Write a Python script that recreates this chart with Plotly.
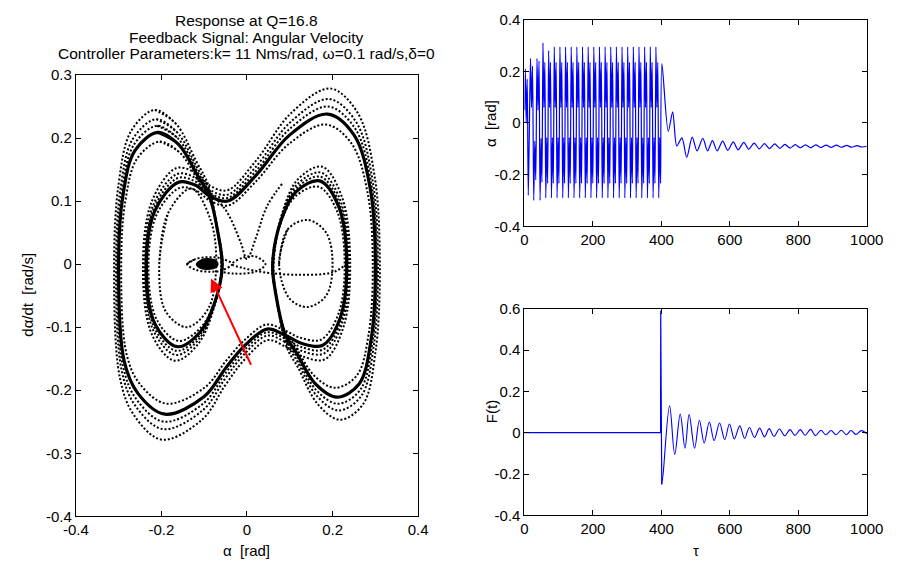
import plotly.graph_objects as go

W, H = 906, 567

# ---------------- phase portrait data ----------------
# main closed orbit (alpha, dalpha/dt), clockwise, starting at top-left peak
orbit_alpha = [-0.208, -0.16, -0.115, -0.088, -0.068, -0.058, -0.075, -0.11, -0.163, -0.215,
               -0.235, -0.215, -0.16, -0.12, -0.088, -0.045, 0.02, 0.1, 0.188, 0.25,
               0.288, 0.3, 0.29, 0.262, 0.21, 0.16, 0.115, 0.09, 0.068, 0.06,
               0.08, 0.115, 0.17, 0.215, 0.233, 0.218, 0.176, 0.125, 0.09, 0.047,
               -0.005, -0.05, -0.1, -0.192, -0.255, -0.287, -0.3, -0.29, -0.262]
orbit_rate = [0.209, 0.19, 0.14, 0.108, 0.05, -0.005, -0.06, -0.108, -0.131, -0.095,
              -0.005, 0.085, 0.13, 0.125, 0.108, 0.1, 0.14, 0.205, 0.238, 0.205,
              0.12, 0.0, -0.12, -0.19, -0.211, -0.19, -0.14, -0.113, -0.05, 0.0,
              0.07, 0.115, 0.132, 0.09, 0.0, -0.085, -0.129, -0.125, -0.113, -0.103,
              -0.129, -0.165, -0.21, -0.238, -0.205, -0.154, 0.0, 0.108, 0.18]
# neighbouring passes of the orbit (scale of alpha, scale of rate)
band_sx = [0.98, 1.01, 1.02, 1.035]
band_sy = [0.93, 1.05, 1.1, 1.17]

# small loop inside the right well
rloop_alpha = [0.075, 0.095, 0.142, 0.185, 0.2, 0.185, 0.142, 0.1]
rloop_rate = [0.0, 0.055, 0.07, 0.05, 0.0, -0.05, -0.068, -0.055]
# inner loop of the left well
lloop_alpha = [-0.205, -0.185, -0.13, -0.085, -0.072, -0.09, -0.14, -0.19]
lloop_rate = [0.0, 0.08, 0.12, 0.07, 0.0, -0.07, -0.1, -0.075]
# trajectory through the saddle region
saddle_alpha = [-0.095, -0.05, -0.015, 0.0, 0.02, 0.047, 0.085]
saddle_rate = [0.118, 0.086, 0.035, 0.008, 0.04, 0.092, 0.13]
# transient after the control is switched on
trans_alpha = [0.233, 0.2, 0.12, 0.04, -0.01, -0.035, -0.01, 0.02, 0.043, 0.02, -0.03, -0.06]
trans_rate = [0.0, -0.013, -0.017, -0.013, -0.006, 0.0, 0.01, 0.012, 0.0, -0.012, -0.015, -0.012]
# final small ellipse around the stabilised point
fin_alpha = [-0.14, -0.12, -0.09, -0.06, -0.035, -0.06, -0.09, -0.12]
fin_rate = [0.0, 0.008, 0.011, 0.009, 0.0, -0.01, -0.012, -0.009]
blob_alpha = [-0.118, -0.105, -0.085, -0.072, -0.068, -0.075, -0.095, -0.11]
blob_rate = [0.0, 0.007, 0.008, 0.005, 0.0, -0.006, -0.008, -0.006]

# ---------------- alpha(tau) data ----------------
early_t = [0, 2.5, 5, 8, 11, 14, 17.5, 20.5, 23.5, 27, 30, 33, 36.5, 39.5, 42.5, 45.5, 48.5, 51]
early_a = [0.05, 0.21, 0.0, 0.17, -0.28, -0.05, 0.25, 0.06, 0.22, -0.3, -0.07, -0.22,
           0.25, 0.05, 0.24, -0.3, -0.06, -0.23]
cycle_start = [54, 70.5, 87, 103.5, 120, 136.5, 153, 169.5, 186, 202.5, 219, 235.5,
               252, 268.5, 285, 301.5, 318, 334.5, 351, 367.5, 384]
cycle_peak = [0.31, 0.28, 0.295, 0.295, 0.295, 0.295, 0.295, 0.295, 0.295, 0.295, 0.295,
              0.295, 0.295, 0.295, 0.295, 0.295, 0.295, 0.295, 0.295, 0.295, 0.295]
cycle_offset = [0, 2.75, 5.5, 8.2, 11, 13.7]
cycle_rest = [0.06, 0.235, -0.29, -0.057, -0.234]
post_t = [401.5, 420, 433, 445, 460, 474, 490, 504, 521, 535, 549, 563, 579, 594, 610, 624,
          641, 655, 671, 686, 701, 716, 731, 746, 761, 776, 791, 806, 821, 836, 851, 866,
          881, 896, 911, 926, 941, 956, 971, 986, 1000]
post_a = [0.23, -0.033, 0.043, -0.089, -0.058, -0.133, -0.055, -0.108, -0.06, -0.108, -0.068,
          -0.108, -0.07, -0.106, -0.073, -0.104, -0.075, -0.102, -0.078, -0.1, -0.08, -0.099,
          -0.081, -0.098, -0.083, -0.097, -0.084, -0.096, -0.085, -0.096, -0.085, -0.095,
          -0.086, -0.095, -0.086, -0.094, -0.087, -0.094, -0.088, -0.093, -0.09]

# ---------------- F(tau) data ----------------
F_pre_t = [0, 397.6, 398.0, 398.3, 399.6, 401]
F_pre_v = [0, 0, 0.59, 0.59, -0.1, -0.25]
F_t = [401, 405, 424, 439, 455, 469, 481, 497, 511, 525, 540, 554, 570, 585, 599, 613, 629,
       643, 657, 672, 687, 701, 715, 729, 745, 760, 776, 790, 806, 820, 836, 850, 866, 880,
       896, 910, 926, 940, 954, 968, 984, 1000]
F_v = [-0.25, -0.2, 0.13, -0.105, 0.09, -0.075, 0.088, -0.075, 0.06, -0.05, 0.052, -0.038,
       0.047, -0.033, 0.042, -0.03, 0.033, -0.028, 0.025, -0.023, 0.022, -0.02, 0.02, -0.018,
       0.018, -0.015, 0.015, -0.013, 0.015, -0.012, 0.016, -0.014, 0.012, -0.01, 0.011, -0.01,
       0.012, -0.01, 0.011, -0.008, 0.01, -0.005]

title_lines = ["Response at Q=16.8", "Feedback Signal: Angular Velocity",
               "Controller Parameters:k= 11 Nms/rad, ω=0.1 rad/s,δ=0"]

# ---------------- build figure ----------------
fig = go.Figure()
BLACK = "black"
BLUE = "#0000ff"


def closed(xs, ys):
    return list(xs) + [xs[0], xs[1]], list(ys) + [ys[0], ys[1]]


ox, oy = closed(orbit_alpha, orbit_rate)
for sx, sy in zip(band_sx, band_sy):
    fig.add_trace(go.Scatter(x=[v * sx for v in ox], y=[v * sy for v in oy], mode="lines",
                             line=dict(color=BLACK, width=2, dash="2px,2px", shape="spline",
                                       smoothing=1.0),
                             xaxis="x", yaxis="y", hoverinfo="skip", showlegend=False))
fig.add_trace(go.Scatter(x=ox, y=oy, mode="lines",
                         line=dict(color=BLACK, width=3.2, shape="spline", smoothing=1.0),
                         xaxis="x", yaxis="y", hoverinfo="skip", showlegend=False))

for xs, ys in [(rloop_alpha, rloop_rate), (lloop_alpha, lloop_rate), (fin_alpha, fin_rate)]:
    cx, cy = closed(xs, ys)
    fig.add_trace(go.Scatter(x=cx, y=cy, mode="lines",
                             line=dict(color=BLACK, width=2, dash="2px,2px", shape="spline",
                                       smoothing=1.0),
                             xaxis="x", yaxis="y", hoverinfo="skip", showlegend=False))
for xs, ys in [(saddle_alpha, saddle_rate), (trans_alpha, trans_rate)]:
    fig.add_trace(go.Scatter(x=xs, y=ys, mode="lines",
                             line=dict(color=BLACK, width=2, dash="2px,2px", shape="spline",
                                       smoothing=1.0),
                             xaxis="x", yaxis="y", hoverinfo="skip", showlegend=False))
bx, by = closed(blob_alpha, blob_rate)
fig.add_trace(go.Scatter(x=bx, y=by, mode="lines", fill="toself", fillcolor=BLACK,
                         line=dict(color=BLACK, width=1.5, shape="spline", smoothing=1.0),
                         xaxis="x", yaxis="y", hoverinfo="skip", showlegend=False))

# alpha(tau)
a_t = list(early_t)
a_v = list(early_a)
for start, peak in zip(cycle_start, cycle_peak):
    vals = [peak] + cycle_rest
    for off, val in zip(cycle_offset, vals):
        a_t.append(start + off)
        a_v.append(val)
a_t += post_t
a_v += post_a
fig.add_trace(go.Scatter(x=a_t, y=a_v, mode="lines",
                         line=dict(color=BLUE, width=1.2, shape="spline", smoothing=0.8),
                         xaxis="x2", yaxis="y2", hoverinfo="skip", showlegend=False))

# F(tau)
fig.add_trace(go.Scatter(x=F_pre_t, y=F_pre_v, mode="lines",
                         line=dict(color=BLUE, width=1.2),
                         xaxis="x3", yaxis="y3", hoverinfo="skip", showlegend=False))
fig.add_trace(go.Scatter(x=F_t, y=F_v, mode="lines",
                         line=dict(color=BLUE, width=1.1, shape="spline", smoothing=1.0),
                         xaxis="x3", yaxis="y3", hoverinfo="skip", showlegend=False))

FONT = "Liberation Sans, Arial, sans-serif"
FS = 15
axis_common = dict(showgrid=False, zeroline=False, showline=True, linecolor=BLACK,
                   linewidth=1, mirror="ticks", ticks="inside", ticklen=5, tickcolor=BLACK,
                   tickfont=dict(family=FONT, size=FS, color=BLACK))


def px_x(p):
    return p / W


def px_y(p):
    return 1 - p / H


fig.update_layout(
    width=W, height=H, margin=dict(l=0, r=0, t=0, b=0),
    paper_bgcolor="white", plot_bgcolor="white", showlegend=False,
    xaxis=dict(domain=[px_x(65), px_x(419)], range=[-0.4, 0.4],
               tickvals=[-0.4, -0.2, 0, 0.2, 0.4], ticktext=["-0.4", "-0.2", "0", "0.2", "0.4"],
               anchor="y", **axis_common),
    yaxis=dict(domain=[px_y(523), px_y(68)], range=[-0.4, 0.3],
               tickvals=[-0.4, -0.3, -0.2, -0.1, 0, 0.1, 0.2, 0.3],
               ticktext=["-0.4", "-0.3", "-0.2", "-0.1", "0", "0.1", "0.2", "0.3"],
               anchor="x", **axis_common),
    xaxis2=dict(domain=[px_x(529), px_x(883)], range=[0, 1000],
                tickvals=[0, 200, 400, 600, 800, 1000], anchor="y2", **axis_common),
    yaxis2=dict(domain=[px_y(224), px_y(11)], range=[-0.4, 0.4],
                tickvals=[-0.4, -0.2, 0, 0.2, 0.4], ticktext=["-0.4", "-0.2", "0", "0.2", "0.4"],
                anchor="x2", **axis_common),
    xaxis3=dict(domain=[px_x(529), px_x(883)], range=[0, 1000],
                tickvals=[0, 200, 400, 600, 800, 1000], anchor="y3", **axis_common),
    yaxis3=dict(domain=[px_y(522), px_y(309)], range=[-0.4, 0.6],
                tickvals=[-0.4, -0.2, 0, 0.2, 0.4, 0.6],
                ticktext=["-0.4", "-0.2", "0", "0.2", "0.4", "0.6"],
                anchor="x3", **axis_common),
)

ann_font = dict(family=FONT, size=FS, color=BLACK)
annotations = []
for i, line in enumerate(title_lines):
    annotations.append(dict(text=line, x=px_x(242), y=px_y(12 + 17 * i), xref="paper",
                            yref="paper", xanchor="center", yanchor="middle",
                            showarrow=False, font=dict(family=FONT, size=15.5, color=BLACK)))
annotations += [
    dict(text="α  [rad]", x=px_x(242), y=px_y(547), xref="paper", yref="paper",
         xanchor="center", yanchor="top", showarrow=False, font=ann_font),
    dict(text="dα/dt  [rad/s]", x=px_x(15), y=px_y(295), xref="paper", yref="paper",
         xanchor="center", yanchor="middle", textangle=-90, showarrow=False, font=ann_font),
    dict(text="α  [rad]", x=px_x(494), y=px_y(118), xref="paper", yref="paper",
         xanchor="center", yanchor="middle", textangle=-90, showarrow=False, font=ann_font),
    dict(text="F(t)", x=px_x(495), y=px_y(415), xref="paper", yref="paper",
         xanchor="center", yanchor="middle", textangle=-90, showarrow=False, font=ann_font),
    dict(text="τ", x=px_x(706), y=px_y(547), xref="paper", yref="paper",
         xanchor="center", yanchor="top", showarrow=False, font=ann_font),
    dict(x=-0.084, y=-0.023, ax=0.011, ay=-0.162, xref="x", yref="y", axref="x", ayref="y",
         text="", showarrow=True, arrowhead=2, arrowsize=1.3, arrowwidth=2, arrowcolor="#ff0000"),
]
fig.update_layout(annotations=annotations)

fig.write_html("out.html")
